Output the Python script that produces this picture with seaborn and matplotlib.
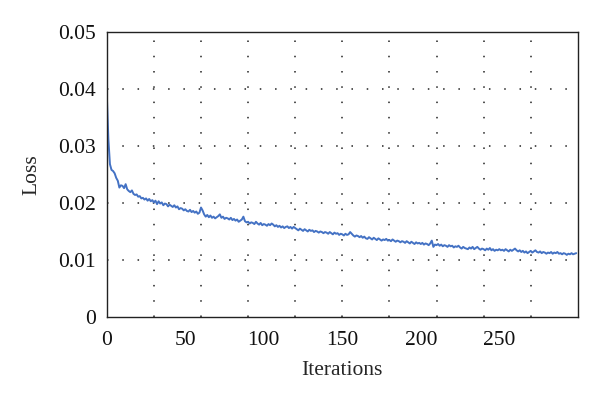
import numpy as np
import pandas as pd
import seaborn as sns
import matplotlib.pyplot as plt

# loss values, in units of 1e-3, one per iteration (0..299)
loss_milli = [
    39.0, 31.2, 26.8, 25.8, 25.6, 25.2, 24.4, 23.9, 22.7, 23.1,
    23.0, 22.6, 23.3, 22.4, 22.1, 21.9, 22.2, 21.6, 21.4, 21.5,
    21.1, 21.2, 20.8, 20.9, 20.6, 20.8, 20.4, 20.7, 20.3, 20.5,
    20.1, 20.4, 19.8, 20.3, 19.9, 20.1, 19.6, 19.9, 19.8, 19.4,
    19.7, 19.5, 19.3, 19.6, 19.2, 19.4, 18.9, 19.1, 19.0, 18.7,
    18.9, 18.6, 18.5, 18.8, 18.4, 18.6, 18.3, 18.5, 18.1, 18.3,
    19.2, 18.7, 18.0, 17.6, 17.9, 17.5, 17.8, 17.4, 17.6, 17.3,
    17.5, 17.7, 18.0, 17.4, 17.6, 17.2, 17.4, 17.3, 17.1, 17.4,
    17.0, 17.2, 16.9, 17.1, 16.7, 16.9, 17.1, 17.6, 16.8, 16.6,
    16.7, 16.4, 16.6, 16.5, 16.3, 16.7, 16.4, 16.2, 16.5, 16.1,
    16.3, 16.2, 16.0, 16.3, 16.1, 16.4, 16.2, 15.9, 16.1, 15.8,
    16.0, 15.7, 15.9, 15.6, 15.8, 15.9, 15.6, 15.8, 15.5, 15.8,
    15.6, 15.4, 15.2, 15.5, 15.3, 15.1, 15.4, 15.2, 15.0, 15.3,
    15.1, 15.2, 14.9, 15.1, 15.0, 14.8, 15.0, 14.9, 14.7, 14.9,
    14.8, 14.6, 14.9, 14.7, 14.5, 14.8, 14.6, 14.7, 14.4, 14.6,
    14.5, 14.3, 14.6, 14.4, 14.5, 14.9, 14.6, 14.3, 14.1, 14.3,
    14.2, 14.0, 14.2, 13.9, 14.1, 13.8, 13.7, 14.0, 13.8, 13.6,
    13.9, 13.7, 13.5, 13.8, 13.6, 13.4, 13.6, 13.5, 13.7, 13.4,
    13.5, 13.3, 13.6, 13.4, 13.2, 13.4, 13.3, 13.1, 13.3, 13.2,
    13.0, 13.3, 13.1, 12.9, 13.2, 13.0, 12.8, 13.1, 12.9, 13.0,
    12.8, 13.0, 12.7, 12.9, 12.8, 12.6, 12.9, 13.4, 12.3, 12.7,
    12.6, 12.8, 12.5, 12.7, 12.4, 12.6, 12.5, 12.3, 12.6, 12.4,
    12.5, 12.2, 12.4, 12.3, 12.5, 12.2, 12.0, 12.3, 12.1, 12.0,
    11.9, 12.2, 12.0, 12.3, 11.9, 12.1, 12.3, 12.0, 11.8, 12.0,
    11.9, 11.7, 12.0, 11.8, 12.1, 11.7, 11.9, 11.6, 11.8, 11.7,
    11.9, 11.7, 11.8, 11.6, 11.9, 11.7, 11.5, 11.8, 11.6, 11.8,
    12.0, 11.7, 11.5, 11.7, 11.4, 11.6, 11.3, 11.5, 11.2, 11.4,
    11.6, 11.3, 11.5, 11.7, 11.4, 11.3, 11.5, 11.2, 11.4, 11.3,
    11.1, 11.3, 11.2, 11.4, 11.1, 11.3, 11.2, 11.4, 11.1, 11.2,
    11.0, 11.2, 11.1, 10.9, 11.1, 11.0, 11.2, 11.0, 11.1, 11.2,
]
iterations = list(range(len(loss_milli)))
x_ticks = [0, 50, 100, 150, 200, 250]
y_ticks = [0, 0.01, 0.02, 0.03, 0.04, 0.05]
y_labels = ["0", "0.01", "0.02", "0.03", "0.04", "0.05"]

df = pd.DataFrame({"Iterations": iterations, "Loss": np.array(loss_milli) / 1000})

sns.set_style("white")
plt.rcParams["font.family"] = ["Liberation Serif", "DejaVu Serif"]

fig = plt.figure(figsize=(6, 3.99), dpi=100)
ax = fig.add_axes([0.178, 0.2055, 0.785, 0.7145])

# dotted grid: 10 vertical divisions, horizontal at each inner y tick
for gx in range(30, 300, 30):
    ax.axvline(gx, color="#222222", lw=1.1, ls=(0, (1, 9)), zorder=0)
for gy in y_ticks[1:-1]:
    ax.axhline(gy, color="#222222", lw=1.1, ls=(0, (1, 9)), zorder=0)

sns.lineplot(data=df, x="Iterations", y="Loss", color="#4472C4", lw=1.4, ax=ax)

ax.set_xlim(0, 300)
ax.set_ylim(0, 0.05)
ax.set_xticks(x_ticks)
ax.set_yticks(y_ticks)
ax.set_yticklabels(y_labels)
ax.tick_params(axis="both", length=0, labelsize=15.5, colors="#111111")
ax.tick_params(axis="x", pad=10)
ax.tick_params(axis="y", pad=8)
ax.set_xlabel("Iterations", fontsize=15.5, labelpad=8)
ax.set_ylabel("Loss", fontsize=15.5, labelpad=12)

for s in ax.spines.values():
    s.set_color("#222222")
    s.set_linewidth(1.0)

fig.savefig("out.png", dpi=100)
